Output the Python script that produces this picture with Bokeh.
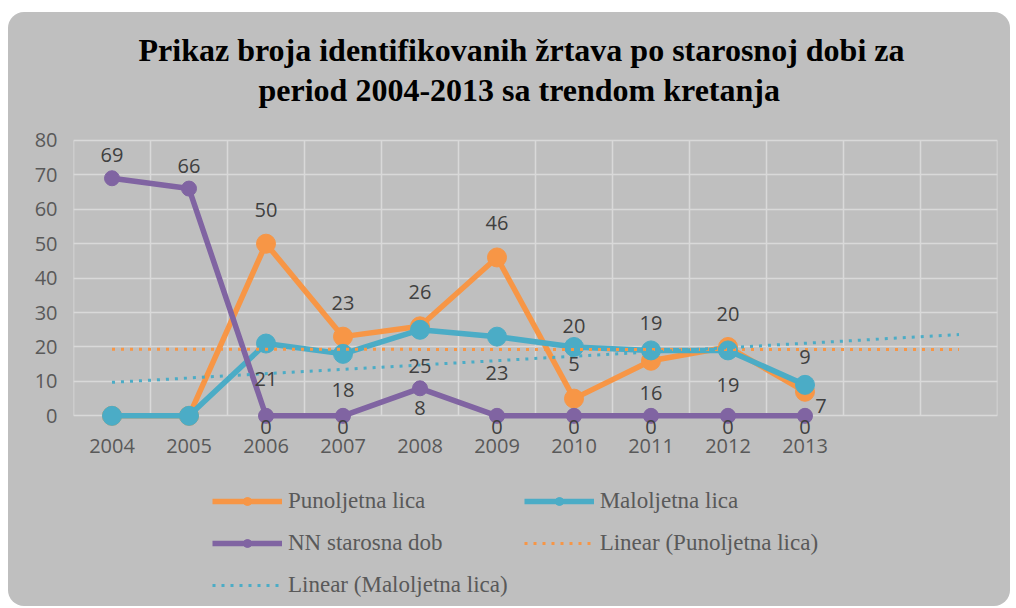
import numpy as np
from bokeh.plotting import figure
from bokeh.layouts import column
from bokeh.models import (ColumnDataSource, FixedTicker, Legend, LegendItem, Title, Range1d)
from bokeh.core.properties import value
from bokeh.embed import file_html
from bokeh.resources import INLINE

# ---------------- data ----------------
years = ["2004", "2005", "2006", "2007", "2008", "2009", "2010", "2011", "2012", "2013"]
punoljetna = [0, 0, 50, 23, 26, 46, 5, 16, 20, 7]
maloljetna = [0, 0, 21, 18, 25, 23, 20, 19, 19, 9]
nn_dob = [69, 66, 0, 0, 8, 0, 0, 0, 0, 0]
y_ticks = [0, 10, 20, 30, 40, 50, 60, 70, 80]
title_lines = ["Prikaz broja identifikovanih žrtava po starosnoj dobi za",
               "period 2004-2013 sa trendom kretanja"]
series_names = ["Punoljetna lica", "Maloljetna lica", "NN starosna dob"]
trend_names = ["Linear (Punoljetna lica)", "Linear (Maloljetna lica)"]
n_slots = 12  # category axis has two empty forecast slots after 2013

# ---------------- style ----------------
ORANGE = "#F79646"
CYAN = "#4BACC6"
PURPLE = "#8064A2"
BG = "#BFBFBF"
GRID = "#D9D9D9"
TICK_COL = "#595959"
LBL_COL = "#404040"
SANS = "Open Sans"
SERIF = "Liberation Serif"

# data label offsets (screen px: dx, dy up-positive); None = label hidden
lbl_orange = [None, None, (0, 34), (0, 34), (0, 34), (0, 34), (0, 35), (0, -32), (0, 33), (16, -14)]
lbl_cyan = [None, None, (0, -35), (0, -36), (0, -36), (0, -36), (0, 21), (0, 27), (0, -35), (0, 28)]
lbl_purple = [(0, 23), (0, 23), (0, -11), (0, -11), (0, -20), (0, -11), (0, -11), (0, -11), (0, -11), (0, -11)]

xs = list(range(len(years)))
series = [(series_names[0], punoljetna, ORANGE, 19),
          (series_names[1], maloljetna, CYAN, 19),
          (series_names[2], nn_dob, PURPLE, 15)]
trends = [(trend_names[0], punoljetna, ORANGE), (trend_names[1], maloljetna, CYAN)]

p = figure(width=1002, height=460, output_backend="svg", toolbar_location=None,
           x_range=Range1d(-0.5, n_slots - 0.5), y_range=Range1d(-6, 82),
           min_border_left=65, min_border_right=13, min_border_top=121, min_border_bottom=36)
p.background_fill_alpha = 0
p.border_fill_alpha = 0
p.outline_line_color = None

# titles (added nearest-first)
p.title.visible = False
t2 = Title(text=title_lines[1], align="left", text_font=SERIF, text_font_size="32px",
           text_font_style="bold", text_color="#000000", offset=185, standoff=52)
t1 = Title(text=title_lines[0], align="left", text_font=SERIF, text_font_size="32px",
           text_font_style="bold", text_color="#000000", offset=65, standoff=-48)
p.add_layout(t2, "above")
p.add_layout(t1, "above")

# axes & grid
p.xaxis.ticker = FixedTicker(ticks=xs)
p.xaxis.major_label_overrides = {i: y for i, y in enumerate(years)}
p.yaxis.ticker = FixedTicker(ticks=y_ticks)
for ax in (p.xaxis, p.yaxis):
    ax.axis_line_color = None
    ax.major_tick_line_color = None
    ax.minor_tick_line_color = None
    ax.major_label_text_font = SANS
    ax.major_label_text_font_size = "20px"
    ax.major_label_text_color = TICK_COL
p.xaxis.major_label_standoff = -4
p.yaxis.major_label_standoff = 10
p.xgrid.visible = False
p.ygrid.ticker = FixedTicker(ticks=y_ticks)
p.ygrid.grid_line_color = GRID
p.ygrid.grid_line_width = 1.5
# vertical category dividers, spanning the value axis 0..max tick only
div_x = [i - 0.5 for i in range(n_slots + 1)]
p.segment(x0=div_x, y0=[y_ticks[0]] * len(div_x), x1=div_x, y1=[y_ticks[-1]] * len(div_x),
          line_color=GRID, line_width=1.5)

for name, vals, col, msize in series:
    src = ColumnDataSource(dict(x=xs, y=vals))
    p.line("x", "y", source=src, line_color=col, line_width=5.5)
    p.scatter("x", "y", source=src, size=msize, fill_color=col, line_color=col)

# linear trendlines (least squares over the data, extended to the forecast slots)
for name, vals, col in trends:
    k, b = np.polyfit(xs, vals, 1)
    tx = [0, n_slots - 1]
    ty = [b + k * t for t in tx]
    p.line(tx, ty, line_color=col, line_width=3, line_dash="3 6")

# data labels
for vals, offs in [(punoljetna, lbl_orange), (maloljetna, lbl_cyan), (nn_dob, lbl_purple)]:
    lx, ly, lt, dx, dy = [], [], [], [], []
    for i, v in enumerate(vals):
        if offs[i] is None:
            continue
        lx.append(i); ly.append(v); lt.append(str(v)); dx.append(offs[i][0]); dy.append(-offs[i][1])
    src = ColumnDataSource(dict(x=lx, y=ly, t=lt, dx=dx, dy=dy))
    p.text("x", "y", text="t", source=src, x_offset="dx", y_offset="dy",
           text_font=value(SANS), text_font_size="20px", text_color=LBL_COL,
           text_align="center", text_baseline="middle")

# ---------------- legend strip ----------------
# legend proxies: same series, drawn outside the strip's visible range
p2 = figure(width=1002, height=134, output_backend="svg", toolbar_location=None,
            x_axis_type=None, y_axis_type=None,
            x_range=Range1d(-200, -199), y_range=Range1d(-200, -199), min_border=0)
p2.background_fill_alpha = 0
p2.border_fill_alpha = 0
p2.outline_line_color = None

leg_r = {}
for name, vals, col, msize in series:
    src = ColumnDataSource(dict(x=xs, y=vals))
    l = p2.line("x", "y", source=src, line_color=col, line_width=5.5)
    s = p2.scatter("x", "y", source=src, size=10, fill_color=col, line_color=col)
    leg_r[name] = [l, s]
for name, vals, col in trends:
    src = ColumnDataSource(dict(x=xs, y=vals))
    leg_r[name] = [p2.line("x", "y", source=src, line_color=col, line_width=3, line_dash="3 6")]

# column-major fill with 2 columns -> rows read: P, M / NN, LinP / LinM
order = [series_names[0], series_names[2], trend_names[1], series_names[1], trend_names[0]]
items = [LegendItem(label=n, renderers=leg_r[n]) for n in order]
legend = Legend(items=items, ncols=2, location=(139, 8),
                label_text_font=SERIF, label_text_font_size="23px", label_text_color=TICK_COL,
                glyph_width=70, glyph_height=20, label_height=20, label_standoff=6,
                spacing=16, padding=0, margin=0,
                background_fill_alpha=0, border_line_alpha=0)
p2.add_layout(legend, "center")

layout = column(p, p2, spacing=0, margin=(12, 6, 2, 8),
                styles={"background-color": BG, "border-radius": "16px"})
open("out.html", "w").write(file_html(layout, INLINE))
